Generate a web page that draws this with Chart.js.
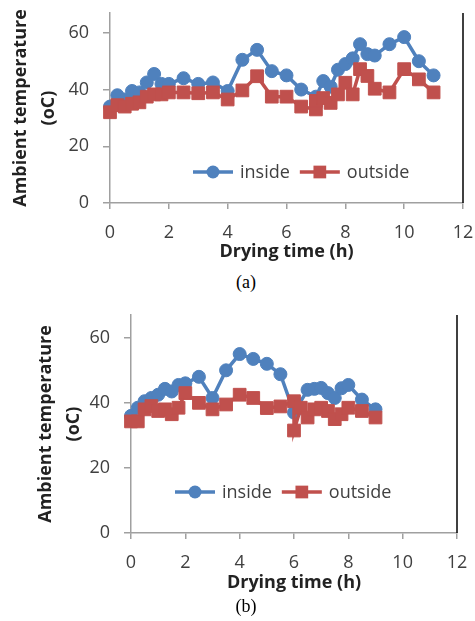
<!DOCTYPE html>
<html>
<head>
<meta charset="utf-8">
<script src="https://cdn.jsdelivr.net/npm/chart.js@4.4.1/dist/chart.umd.min.js"></script>
<style>
body { margin: 0; background: #fff; width: 475px; height: 621px; position: relative; overflow: hidden; }
canvas { position: absolute; left: 0; }
#chartA { top: 0; }
#chartB { top: 300px; }
.cap { position: absolute; left: 221px; width: 50px; text-align: center; font: 18px "Liberation Serif", serif; line-height: 20px; color: #000; }
</style>
</head>
<body>
<canvas id="chartA" width="475" height="270"></canvas>
<canvas id="chartB" width="475" height="300"></canvas>
<div class="cap" style="top:272px">(a)</div>
<div class="cap" style="top:596px">(b)</div>
<script>
// axis ticks
var xTicks = [0, 2, 4, 6, 8, 10, 12];
var yTicks = [0, 20, 40, 60];
var seriesNames = ['inside', 'outside'];

// (a)
var timeInA = [0, 0.25, 0.5, 0.75, 1, 1.25, 1.5, 1.75, 2, 2.5, 3, 3.5, 4, 4.5, 5, 5.5, 6, 6.5, 7, 7.25, 7.5, 7.75, 8, 8.25, 8.5, 8.75, 9, 9.5, 10, 10.5, 11];
var insideA = [34, 38, 36.5, 39.5, 39, 42.5, 45.5, 42, 42, 44, 42, 42.5, 39.5, 50.5, 54, 46.5, 45, 40, 37.5, 43, 41, 47, 49, 51, 56, 52.5, 52, 56, 58.5, 50, 45];
var timeOutA = [0, 0.25, 0.5, 0.75, 1, 1.25, 1.5, 1.75, 2, 2.5, 3, 3.5, 4, 4.5, 5, 5.5, 6, 6.5, 7, 7, 7.25, 7.5, 7.75, 8, 8.25, 8.5, 8.75, 9, 9.5, 10, 10.5, 11];
var outsideA = [32, 34.5, 34, 35, 35.5, 37.5, 38.3, 38.3, 39, 39, 38.7, 39, 36.5, 39.7, 44.7, 37.5, 37.5, 34, 33, 36, 37, 35.3, 38.3, 42.4, 38.3, 47.2, 44.8, 40.3, 39, 47.2, 43.6, 39];

// (b)
var timeInB = [0, 0.25, 0.5, 0.75, 1, 1.25, 1.5, 1.75, 2, 2.5, 3, 3.5, 4, 4.5, 5, 5.5, 6, 6.5, 6.75, 7, 7.25, 7.5, 7.75, 8, 8.5, 9];
var insideB = [36, 38.5, 40.5, 41.5, 42.5, 44.3, 43.5, 45.5, 46, 48, 41.5, 50, 55, 53.5, 52, 48.8, 37, 44, 44.3, 44.6, 43, 41.5, 44.5, 45.5, 41, 38];
var timeOutB = [0, 0.25, 0.5, 0.75, 1, 1.25, 1.5, 1.75, 2, 2.5, 3, 3.5, 4, 4.5, 5, 5.5, 6, 6, 6.25, 6.5, 6.75, 7, 7.25, 7.5, 7.75, 8, 8.5, 9];
var outsideB = [34.3, 34.3, 38, 39, 37.5, 38, 36.5, 38.5, 43, 40, 38, 39.5, 42.5, 41.5, 38.4, 38.9, 40.5, 31.5, 38.5, 35.5, 38, 38.5, 37.5, 35, 36.5, 38.5, 37.5, 35.5];

var BLUE = '#4F81BD';
var RED = '#C0504D';
var AXIS = '#a0a0a0';
var TEXT = '#404040';
var FONT = '"Open Sans", sans-serif';

function pairs(xs, ys) {
    return xs.map(function (x, i) { return {x: x, y: ys[i]}; });
}

// black edge on the right of the plot
var rightEdge = {
    id: 'rightEdge',
    afterDraw: function (chart) {
        var a = chart.chartArea, ctx = chart.ctx;
        ctx.save();
        ctx.strokeStyle = '#000';
        ctx.lineWidth = 1.5;
        ctx.beginPath();
        ctx.moveTo(a.right, a.top);
        ctx.lineTo(a.right, a.bottom);
        ctx.stroke();
        ctx.restore();
    }
};

// legend drawn inside the plot, line + marker like Excel
var insideLegend = {
    id: 'insideLegend',
    afterDraw: function (chart, args, opts) {
        var ctx = chart.ctx;
        var x = opts.x, y = opts.y;
        ctx.save();
        ctx.font = '18px ' + FONT;
        ctx.textBaseline = 'middle';
        chart.data.datasets.forEach(function (ds) {
            ctx.strokeStyle = ds.borderColor;
            ctx.fillStyle = ds.borderColor;
            ctx.lineWidth = ds.borderWidth;
            ctx.beginPath();
            ctx.moveTo(x, y);
            ctx.lineTo(x + 40, y);
            ctx.stroke();
            ctx.beginPath();
            if (ds.pointStyle === 'rect') {
                var s = ds.pointRadius * Math.SQRT1_2;
                ctx.rect(x + 20 - s, y - s, 2 * s, 2 * s);
            } else {
                ctx.arc(x + 20, y, ds.pointRadius, 0, Math.PI * 2);
            }
            ctx.fill();
            ctx.fillStyle = TEXT;
            ctx.fillText(ds.label, x + 47, y + 1);
            x += 47 + ctx.measureText(ds.label).width + 10;
        });
        ctx.restore();
    }
};

function noPad(s) {
    s.paddingTop = 0;
    s.paddingBottom = 0;
    s.paddingLeft = 0;
    s.paddingRight = 0;
}

function makeChart(id, inside, outside, cfg) {
    var ctx = document.getElementById(id).getContext('2d');
    return new Chart(ctx, {
        type: 'line',
        data: {
            datasets: [{
                label: seriesNames[0],
                data: inside,
                borderColor: BLUE,
                backgroundColor: BLUE,
                borderWidth: 3.5,
                pointStyle: 'circle',
                pointRadius: 6.5,
                pointBorderWidth: 1,
                tension: 0,
                clip: false,
                order: 1
            }, {
                label: seriesNames[1],
                data: outside,
                borderColor: RED,
                backgroundColor: RED,
                borderWidth: 3.5,
                pointStyle: 'rect',
                pointRadius: 9,
                pointBorderWidth: 1,
                tension: 0,
                clip: false,
                order: 0
            }]
        },
        options: {
            responsive: false,
            animation: false,
            devicePixelRatio: 1,
            layout: {padding: cfg.padding},
            plugins: {
                legend: {display: false},
                tooltip: {enabled: false},
                insideLegend: cfg.legend
            },
            scales: {
                x: {
                    type: 'linear',
                    min: 0, max: 12,
                    afterBuildTicks: function (s) { s.ticks = xTicks.map(function (v) { return {value: v}; }); },
                    afterFit: function (s) { s.height = 67; noPad(s); },
                    grid: {drawOnChartArea: false, drawTicks: true, tickLength: 6, color: AXIS, lineWidth: 1.5},
                    border: {color: AXIS, width: 1.5},
                    ticks: {color: TEXT, font: {family: FONT, size: 18}, padding: 13, maxRotation: 0},
                    title: {display: true, text: 'Drying time (h)', color: '#222',
                            font: {family: FONT, size: 18, weight: 'bold', lineHeight: 1.2},
                            padding: {top: 0, bottom: cfg.xTitlePad}}
                },
                y: {
                    min: 0, max: 67,
                    afterBuildTicks: function (s) { s.ticks = yTicks.map(function (v) { return {value: v}; }); },
                    afterFit: function (s) { s.width = cfg.yWidth; noPad(s); },
                    grid: {drawOnChartArea: false, drawTicks: true, tickLength: 7, color: AXIS, lineWidth: 1.5},
                    border: {color: AXIS, width: 1.5},
                    ticks: {color: TEXT, font: {family: FONT, size: 18}, padding: 14},
                    title: {display: true, text: ['Ambient temperature', '(oC)'], color: '#222',
                            font: {family: FONT, size: 18, weight: 'bold', lineHeight: 1.6},
                            padding: {top: 6, bottom: 0}}
                }
            }
        },
        plugins: [rightEdge, insideLegend]
    });
}

makeChart('chartA', pairs(timeInA, insideA), pairs(timeOutA, outsideA), {
    padding: {left: 0, top: 13, right: 12, bottom: 0},
    yWidth: 110,
    xTitlePad: 7,
    legend: {x: 193, y: 172}
});

makeChart('chartB', pairs(timeInB, insideB), pairs(timeOutB, outsideB), {
    padding: {left: 25, top: 15, right: 18, bottom: 0},
    yWidth: 106,
    xTitlePad: 6,
    legend: {x: 175, y: 192}
});
</script>
</body>
</html>
